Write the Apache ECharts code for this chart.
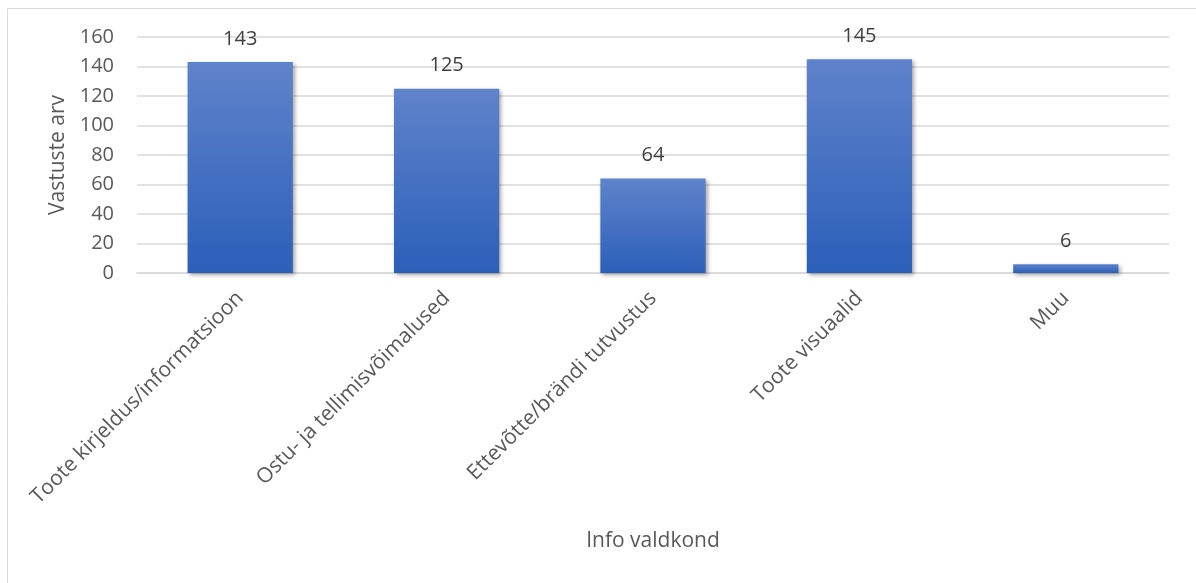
<!DOCTYPE html>
<html>
<head>
<meta charset="utf-8">
<script src="https://cdn.jsdelivr.net/npm/echarts@6/dist/echarts.min.js"></script>
<style>
  html, body { margin: 0; padding: 0; background: #fff; }
  #chart { width: 1196px; height: 583px; }
</style>
</head>
<body>
<div id="chart"></div>
<script>
// Survey responses per information area
const categories = [
  'Toote kirjeldus/informatsioon',
  'Ostu- ja tellimisvõimalused',
  'Ettevõtte/brändi tutvustus',
  'Toote visuaalid',
  'Muu'
];
const responses = [143, 125, 64, 145, 6];
const yTicks = { min: 0, max: 160, interval: 20 };
const xAxisTitle = 'Info valdkond';
const yAxisTitle = 'Vastuste arv';

const FONT = '"Open Sans", "Noto Sans", sans-serif';
const chart = echarts.init(document.getElementById('chart'), null, { renderer: 'canvas' });

chart.setOption({
  animation: false,
  backgroundColor: '#ffffff',
  textStyle: { fontFamily: FONT },
  graphic: [{
    type: 'rect',
    silent: true,
    shape: { x: 7.5, y: 8.5, width: 1400, height: 800 },
    style: { fill: 'none', stroke: '#d9d9d9', lineWidth: 1 }
  }],
  grid: { left: 137, right: 27, top: 37, bottom: 310, containLabel: false },
  xAxis: {
    type: 'category',
    data: categories,
    name: xAxisTitle,
    nameLocation: 'middle',
    nameGap: 258,
    nameTextStyle: { color: '#595959', fontSize: 21, fontFamily: FONT },
    axisLine: { lineStyle: { color: '#d9d9d9', width: 1.5 } },
    axisTick: { show: false },
    axisLabel: {
      interval: 0,
      rotate: 45,
      margin: 22,
      color: '#595959',
      fontSize: 21,
      fontFamily: FONT
    }
  },
  yAxis: {
    type: 'value',
    min: yTicks.min,
    max: yTicks.max,
    interval: yTicks.interval,
    name: yAxisTitle,
    nameLocation: 'middle',
    nameGap: 68,
    nameRotate: 90,
    nameTextStyle: { color: '#595959', fontSize: 21, fontFamily: FONT },
    axisLine: { show: false },
    axisTick: { show: false },
    axisLabel: { color: '#595959', fontSize: 20, margin: 23, fontFamily: FONT },
    splitLine: { lineStyle: { color: '#d9d9d9', width: 1.5 } }
  },
  series: [{
    type: 'bar',
    data: responses,
    barWidth: '51%',
    itemStyle: {
      color: new echarts.graphic.LinearGradient(0, 0, 0, 1, [
        { offset: 0, color: '#5f83cb' },
        { offset: 1, color: '#2c5fb9' }
      ]),
      shadowColor: 'rgba(0,0,0,0.35)',
      shadowBlur: 4,
      shadowOffsetX: 2,
      shadowOffsetY: 2
    },
    label: {
      show: true,
      position: 'top',
      distance: 13,
      color: '#404040',
      fontSize: 20,
      fontFamily: FONT
    }
  }]
});
</script>
</body>
</html>
